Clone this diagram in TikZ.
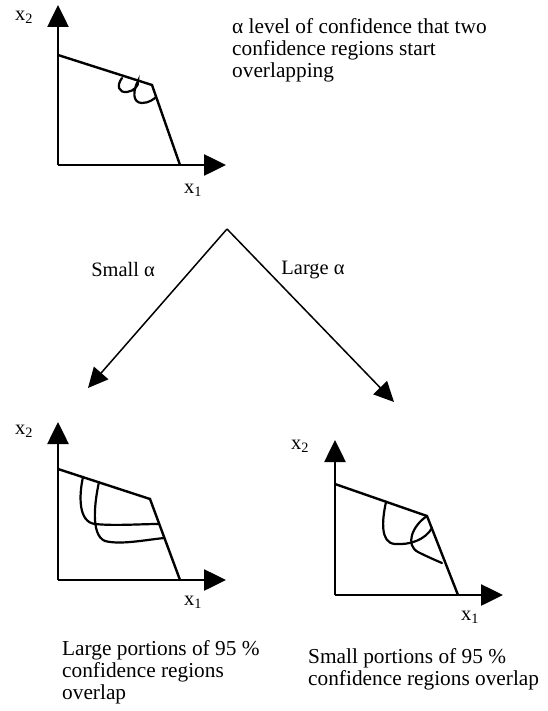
\documentclass[tikz,border=0pt]{standalone}
\usepackage{fontspec}
\setmainfont{Liberation Serif}
\usetikzlibrary{arrows.meta}
\begin{document}
\begin{tikzpicture}[x=1bp,y=-1bp,
  axis/.style={line width=2.6bp,-{Triangle[length=22bp,width=21bp]}},
  frontier/.style={line width=2.4bp,line join=miter},
  region/.style={line width=2.2bp,line cap=round},
  branch/.style={line width=1.5bp,-{Triangle[length=20bp,width=19bp]}},
  txt/.style={font=\fontsize{21.4}{23}\selectfont,inner sep=0pt,anchor=base west},
  lbl/.style={font=\fontsize{20.5}{23}\selectfont,inner sep=0pt}]
\path[use as bounding box] (0,0) rectangle (548,711);

% ---------- top plot ----------
\coordinate (tO) at (58,165);
\coordinate (tY) at (58,5);
\coordinate (tX) at (226,165);
\coordinate (tA) at (58,55);
\coordinate (tB) at (152,85);
\coordinate (tC) at (180,165);
\draw[axis] (tO) -- (tY);
\draw[axis] (tO) -- (tX);
\draw[frontier] (tA) -- (tB) -- (tC);
\draw[region] (122,78) .. controls (116,86) and (119,93) .. (127,92)
   .. controls (134,91) and (139,86) .. (138,81)
   .. controls (133,90) and (132,103) .. (142,103)
   .. controls (149,103) and (154,99) .. (156,97);
\node[lbl] (tx2) at (24,17) {x\textsubscript{2}};
\node[lbl] (tx1) at (193,190) {x\textsubscript{1}};

\node[txt] (t1) at (232,34) {α level of confidence that two};
\node[txt] (t2) at (232,56) {confidence regions start};
\node[txt] (t3) at (232,78) {overlapping};

% ---------- branches ----------
\coordinate (apex) at (227,229);
\coordinate (ltip) at (88,388);
\coordinate (rtip) at (394,402);
\draw[branch] (apex) -- (ltip);
\draw[branch] (apex) -- (rtip);
\node[lbl] (small) at (123,270) {Small α};
\node[lbl] (large) at (313,270) {Large α};

% ---------- bottom-left plot ----------
\coordinate (lO) at (58,580);
\coordinate (lY) at (58,422);
\coordinate (lX) at (226,580);
\coordinate (lA) at (58,469);
\coordinate (lB) at (150,499);
\coordinate (lC) at (180,580);
\draw[axis] (lO) -- (lY);
\draw[axis] (lO) -- (lX);
\draw[frontier] (lA) -- (lB) -- (lC);
\draw[region] (83,477) .. controls (79,495) and (78,522) .. (95,524)
   .. controls (115,526) and (140,524) .. (159,524);
\draw[region] (99,482) .. controls (95,500) and (90,535) .. (105,541)
   .. controls (120,545) and (145,540) .. (164,538);
\node[lbl] (lx2) at (24,431) {x\textsubscript{2}};
\node[lbl] (lx1) at (193,602) {x\textsubscript{1}};
\node[txt] (l1) at (62,655) {Large portions of 95 \%};
\node[txt] (l2) at (62,677) {confidence regions};
\node[txt] (l3) at (62,699) {overlap};

% ---------- bottom-right plot ----------
\coordinate (rO) at (335,595);
\coordinate (rY) at (335,440);
\coordinate (rX) at (503,595);
\coordinate (rA) at (335,484);
\coordinate (rB) at (427,516);
\coordinate (rC) at (458,595);
\draw[axis] (rO) -- (rY);
\draw[axis] (rO) -- (rX);
\draw[frontier] (rA) -- (rB) -- (rC);
\draw[region] (386,502) .. controls (382,520) and (380,543) .. (395,544)
   .. controls (410,545) and (425,540) .. (432,528);
\draw[region] (rB) .. controls (412,526) and (405,545) .. (418,552)
   .. controls (428,557) and (435,560) .. (442,563);
\node[lbl] (rx2) at (300,446) {x\textsubscript{2}};
\node[lbl] (rx1) at (470,617) {x\textsubscript{1}};
\node[txt] (r1) at (308,663) {Small portions of 95 \%};
\node[txt] (r2) at (308,685) {confidence regions overlap};
\end{tikzpicture}
\end{document}
